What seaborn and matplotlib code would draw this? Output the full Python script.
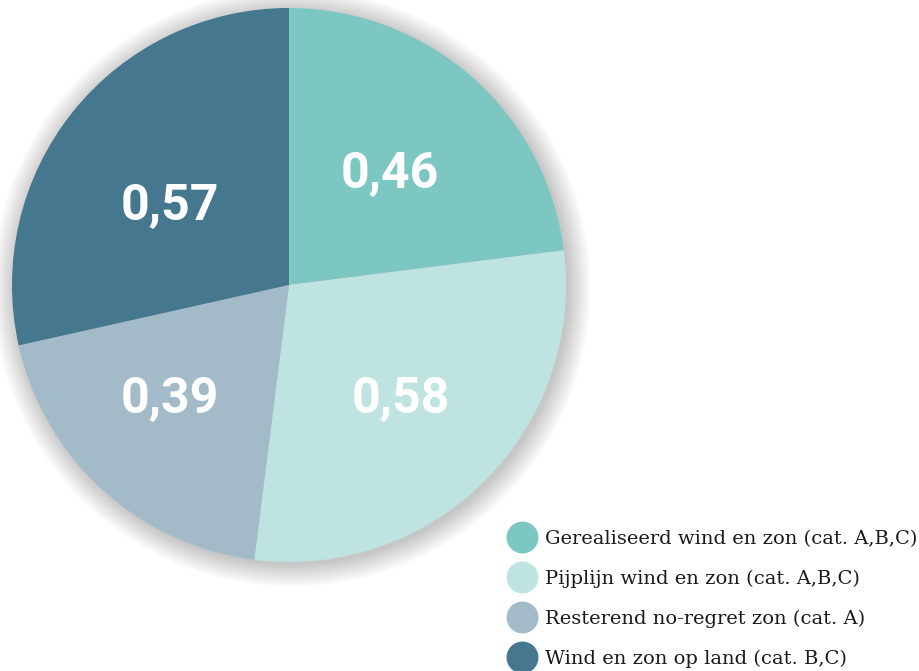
import matplotlib
matplotlib.use("Agg")
import matplotlib.pyplot as plt
from matplotlib.lines import Line2D
from matplotlib.patches import Circle
import seaborn as sns

categories = ["Gerealiseerd wind en zon (cat. A,B,C)",
              "Pijplijn wind en zon (cat. A,B,C)",
              "Resterend no-regret zon (cat. A)",
              "Wind en zon op land (cat. B,C)"]
values = [0.46, 0.58, 0.39, 0.57]
value_labels = ["0,46", "0,58", "0,39", "0,57"]
colors = sns.color_palette(["#7CC7C1", "#BEE3E0", "#A3BAC8", "#45778F"])

sns.set_theme(style="white")

W, H = 920, 671
fig = plt.figure(figsize=(W / 100, H / 100), dpi=100)
cx, cy, r = 289, 285, 277
ax = fig.add_axes([(cx - r) / W, (H - cy - r) / H, 2 * r / W, 2 * r / H])

# soft shadow behind the pie
for i in range(28):
    ax.add_patch(Circle((0.01, -0.01), 1.0 + i * 0.003, color="black",
                        alpha=0.009, lw=0, zorder=0, clip_on=False))

wedges, texts = ax.pie(values, colors=colors, startangle=90, counterclock=False,
                       radius=1.0, labels=value_labels, labeldistance=0.55,
                       wedgeprops=dict(linewidth=0), textprops=dict(zorder=3))
# small nudges so the labels sit where the original has them
nudges = [(0.0, -0.014), (0.014, -0.025), (-0.061, -0.007), (0.0, -0.061)]
for t, (dx, dy) in zip(texts, nudges):
    x, y = t.get_position()
    t.set_position((x + dx, y + dy))
    t.set_ha("center")
    t.set_va("center")
    t.set_color("white")
    t.set_fontsize(36)
    t.set_fontweight("bold")
    t.set_family(["Roboto", "DejaVu Sans"])

ax.set_xlim(-1.0, 1.0)
ax.set_ylim(-1.0, 1.0)
ax.set_aspect("equal")
ax.axis("off")

handles = [Line2D([0], [0], marker="o", linestyle="", markersize=23,
                  markerfacecolor=c, markeredgewidth=0) for c in colors]
fig.legend(handles, categories, loc="lower right", bbox_to_anchor=(1.0, 0.0),
           frameon=False, prop=dict(family="DejaVu Serif", size=14),
           labelcolor="#1a1a1a",
           labelspacing=1.12, handletextpad=0.25, handlelength=1.8,
           borderaxespad=0.0, borderpad=0.15)

fig.savefig("out.png", dpi=100)
